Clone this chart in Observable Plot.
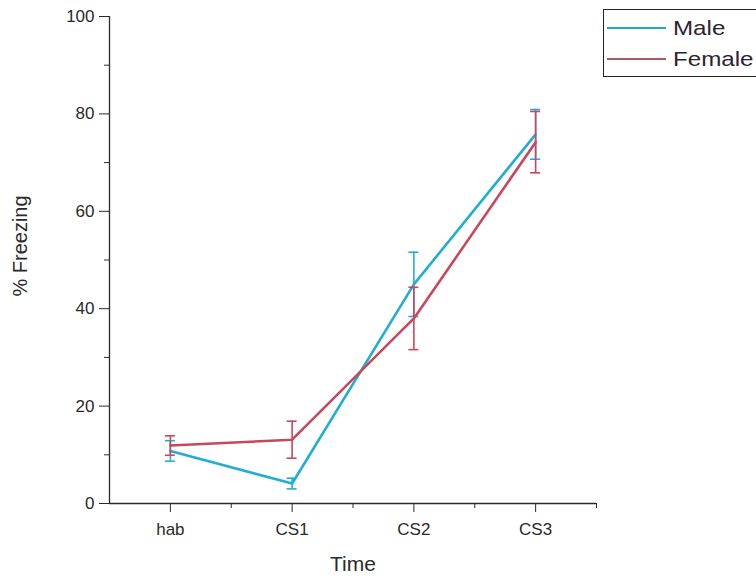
<!DOCTYPE html>
<html>
<head>
<meta charset="utf-8">
<script src="https://cdn.jsdelivr.net/npm/d3@7"></script>
<script src="https://cdn.jsdelivr.net/npm/@observablehq/plot@0.6"></script>
<style>
  body { margin: 0; background: #fff; }
  #wrap { position: relative; width: 756px; height: 584px; overflow: hidden; }
  #legend {
    position: absolute; left: 603px; top: 9px; width: 170px; height: 68px;
    border: 1.3px solid #222; box-sizing: border-box; background: #fff;
    font-family: "Liberation Sans", Arial, sans-serif; font-size: 21px; color: #2a2530;
  }
  .row { position: absolute; left: 3px; height: 24px; display: flex; align-items: center; }
  .row i { display: inline-block; width: 59px; height: 0; border-top: 2.6px solid; margin-right: 7px; }
  .row span { display: inline-block; transform: scaleX(1.15); transform-origin: left center; }
</style>
</head>
<body>
<div id="wrap"></div>
<script>
// Freezing response over the session, mean ± error per group
const times = ["hab", "CS1", "CS2", "CS3"];
const maleMean = [10.8, 4.1, 45.0, 75.8];
const maleErr = [2.1, 1.1, 6.6, 5.1];
const femaleMean = [11.9, 13.1, 38.0, 74.2];
const femaleErr = [2.0, 3.8, 6.4, 6.3];
const groups = ["Male", "Female"];
const colors = {Male: "#22aed2", Female: "#c9475c"};
const legendColors = {Male: "#1fa8d2", Female: "#b25565"};

const rows = [];
times.forEach((t, i) => {
  rows.push({group: "Male", i, v: maleMean[i], e: maleErr[i]});
  rows.push({group: "Female", i, v: femaleMean[i], e: femaleErr[i]});
});

const font = "Liberation Sans, Arial, sans-serif";
const ink = "#2a2a2a";

const marks = [];
for (const g of groups) {
  const d = rows.filter(r => r.group === g);
  const c = colors[g];
  marks.push(
    Plot.ruleX(d, {x: "i", y1: r => r.v - r.e, y2: r => r.v + r.e, stroke: c, strokeWidth: 1.6}),
    Plot.ruleY(d, {y: r => r.v + r.e, x1: "i", x2: "i", insetLeft: -5, insetRight: -5, stroke: c, strokeWidth: 1.6}),
    Plot.ruleY(d, {y: r => r.v - r.e, x1: "i", x2: "i", insetLeft: -5, insetRight: -5, stroke: c, strokeWidth: 1.6}),
    Plot.line(d, {x: "i", y: "v", stroke: c, strokeWidth: 2.6})
  );
}

const chart = Plot.plot({
  width: 756,
  height: 584,
  marginLeft: 109,
  marginRight: 160,
  marginTop: 16,
  marginBottom: 81,
  style: {fontFamily: font, background: "#fff", color: ink},
  x: {domain: [-0.5, 3.5], axis: null},
  y: {domain: [0, 100], axis: null},
  marks: [
    ...marks,
    // axis lines
    Plot.ruleX([-0.5], {stroke: ink, strokeWidth: 1.3}),
    Plot.ruleY([0], {stroke: ink, strokeWidth: 1.3}),
    // y axis
    Plot.axisY({ticks: [0, 20, 40, 60, 80, 100], tickSize: 10, tickPadding: 5, fontSize: 17, stroke: ink, fill: ink, label: null}),
    Plot.axisY({ticks: [10, 30, 50, 70, 90], tickSize: 5, text: null, stroke: ink, label: null}),
    // x axis
    Plot.axisX({ticks: [0, 1, 2, 3], tickFormat: i => times[i], tickSize: 9, tickPadding: 10, fontSize: 17, stroke: ink, fill: ink, label: null}),
    Plot.axisX({ticks: [0.5, 1.5, 2.5, 3.5], tickSize: 5, text: null, stroke: ink, label: null}),
    // axis titles
    Plot.text(["Time"], {frameAnchor: "bottom", dy: 67, fontSize: 21, fill: ink}),
    Plot.text(["% Freezing"], {frameAnchor: "left", textAnchor: "middle", dx: -89, dy: -14, rotate: -90, fontSize: 20, fill: ink})
  ]
});

const wrap = document.getElementById("wrap");
wrap.appendChild(chart);

const legend = document.createElement("div");
legend.id = "legend";
groups.forEach((g, k) => {
  const row = document.createElement("div");
  row.className = "row";
  row.style.top = (k === 0 ? 6 : 37) + "px";
  const sw = document.createElement("i");
  sw.style.borderColor = legendColors[g];
  const label = document.createElement("span");
  label.textContent = g;
  row.appendChild(sw);
  row.appendChild(label);
  legend.appendChild(row);
});
wrap.appendChild(legend);
</script>
</body>
</html>
